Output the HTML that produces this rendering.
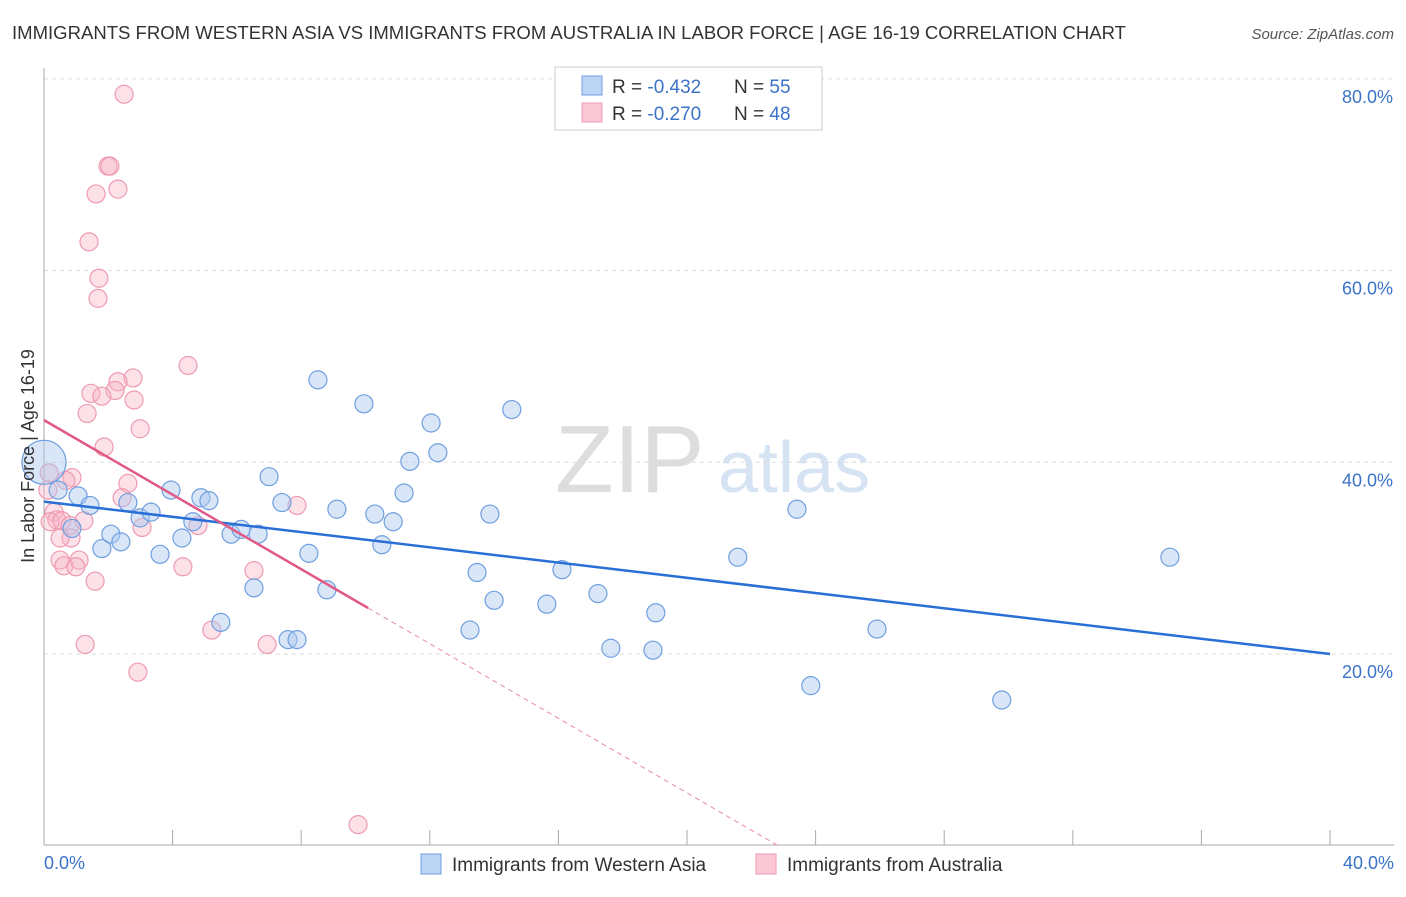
<!DOCTYPE html>
<html><head><meta charset="utf-8"><style>
body{margin:0;background:#fff;font-family:"Liberation Sans",sans-serif}
svg text{font-family:"Liberation Sans",sans-serif}
</style></head><body>
<svg width="1406" height="892" xmlns="http://www.w3.org/2000/svg">
<text x="12" y="39" font-size="18" fill="#333" textLength="1114" lengthAdjust="spacingAndGlyphs">IMMIGRANTS FROM WESTERN ASIA VS IMMIGRANTS FROM AUSTRALIA IN LABOR FORCE | AGE 16-19 CORRELATION CHART</text>
<text x="1394" y="39" font-size="15" fill="#555" text-anchor="end" font-style="italic">Source: ZipAtlas.com</text>
<g>
<text x="555" y="492" font-size="96" fill="#ddd" font-family="Liberation Serif">ZIP</text>
<text x="718" y="492" font-size="72" fill="#d6e3f3">atlas</text>
</g>
<g id="grid"></g>
<g id="axes"></g>
<g id="pts"></g>
<g id="trends"></g>
<text transform="translate(34,456) rotate(-90)" font-size="18" fill="#333" text-anchor="middle">In Labor Force | Age 16-19</text>
<text x="44" y="869" font-size="18" fill="#3b73c8">0.0%</text>
<text x="1394" y="869" font-size="18" fill="#3b73c8" text-anchor="end">40.0%</text>
<g>
<rect x="555" y="67" width="267" height="63" fill="#fff" stroke="#ccc"/>
<rect x="582" y="76" width="20" height="19" fill="#bcd5f5" stroke="#6f9fe0"/>
<rect x="582" y="103" width="20" height="19" fill="#fbc9d6" stroke="#ee9ab0"/>
<text x="612" y="93" font-size="19" fill="#333">R = <tspan fill="#3b73c8">-0.432</tspan></text>
<text x="734" y="93" font-size="19" fill="#333">N = <tspan fill="#3b73c8">55</tspan></text>
<text x="612" y="120" font-size="19" fill="#333">R = <tspan fill="#3b73c8">-0.270</tspan></text>
<text x="734" y="120" font-size="19" fill="#333">N = <tspan fill="#3b73c8">48</tspan></text>
</g>
<g>
<rect x="421" y="854" width="20" height="20" fill="#bcd5f5" stroke="#6f9fe0"/>
<text x="452" y="871" font-size="19" fill="#333">Immigrants from Western Asia</text>
<rect x="756" y="854" width="20" height="20" fill="#fbc9d6" stroke="#ee9ab0"/>
<text x="787" y="871" font-size="19" fill="#333">Immigrants from Australia</text>
</g>
</svg>
<script>
const yTicks=[20,40,60,80];
const yTickLabels=["20.0%","40.0%","60.0%","80.0%"];
const blueX=[0,0.44,1.06,1.43,0.87,1.80,2.08,2.39,2.61,2.99,3.33,3.61,3.95,4.29,4.63,4.88,5.13,5.50,5.82,6.13,6.66,6.53,7.0,7.40,7.59,7.87,8.24,8.52,8.80,9.11,9.95,10.29,10.51,10.86,11.20,11.38,12.04,12.25,13.25,13.47,13.87,14.0,14.55,15.64,16.11,17.23,17.63,18.94,19.03,21.58,23.42,23.85,25.91,29.79,35.02];
const blueY=[40.0,37.1,36.5,35.5,33.1,31.0,32.5,31.7,35.8,34.2,34.8,30.4,37.1,32.1,33.8,36.3,36.0,23.3,32.5,33.0,32.5,26.9,38.5,35.8,21.5,21.5,30.5,48.6,26.7,35.1,46.1,34.6,31.4,33.8,36.8,40.1,44.1,41.0,22.5,28.5,34.6,25.6,45.5,25.2,28.8,26.3,20.6,20.4,24.3,30.1,35.1,16.7,22.6,15.2,30.1];
const pinkX=[2.49,1.99,2.05,2.30,1.62,1.40,1.71,1.68,4.48,2.77,2.30,1.46,2.21,1.80,2.80,1.34,2.99,1.87,0.16,0.87,0.68,0.12,2.61,2.43,0.31,0.40,1.24,0.19,0.56,0.81,3.05,4.79,7.87,0.84,0.50,0.50,0.62,1.09,0.99,1.59,4.32,6.53,5.22,6.94,1.28,2.92,9.77];
const pinkY=[78.4,70.9,70.9,68.5,68.0,63.0,59.2,57.1,50.1,48.8,48.4,47.2,47.5,46.9,46.5,45.1,43.5,41.6,38.9,38.4,38.1,37.1,37.8,36.3,34.8,34.0,33.9,33.8,33.9,33.4,33.2,33.4,35.5,32.1,32.1,29.8,29.2,29.8,29.1,27.6,29.1,28.7,22.5,21.0,21.0,18.1,2.2];
const blueTrend=[35.9,20.0];
const pinkTrend=[44.4,24.8];
const pinkSolidEnd=10.08;
const NS="http://www.w3.org/2000/svg";
const X=v=>44+v/40*1286, Y=v=>845.7-v/20*191.7;
function mk(t,a,p){const e=document.createElementNS(NS,t);for(const k in a)e.setAttribute(k,a[k]);p.appendChild(e);return e;}
const grid=document.getElementById('grid'),axes=document.getElementById('axes'),pts=document.getElementById('pts'),tr=document.getElementById('trends');
yTicks.forEach((t,i)=>{
 const l=mk('line',{x1:44,x2:1394,y1:Y(t),y2:Y(t),stroke:'#ddd','stroke-dasharray':'4,4'},grid);
 
 
 const tx=mk('text',{x:1393,y:Y(t)+24,'font-size':18,fill:'#3b73c8','text-anchor':'end'},grid);
 tx.textContent=yTickLabels[i];
 
 
});
let a=mk('line',{x1:44,x2:44,y1:68,y2:845,stroke:'#aaa'},axes);


a=mk('line',{x1:44,x2:1394,y1:845,y2:845,stroke:'#aaa'},axes);


for(let i=0;i<=10;i++){const t=mk('line',{x1:X(i*4),x2:X(i*4),y1:830,y2:845,stroke:'#aaa'},axes);
 
 }
function dot(x,y,r,f,s,n){const c=mk('circle',{cx:X(x),cy:Y(y),r:r,fill:f,stroke:s,'stroke-width':1.2},pts);
 
 }
pinkX.forEach((x,i)=>dot(x,pinkY[i],9,'rgba(248,180,200,0.4)','#ee9ab0','point-australia'));
blueX.forEach((x,i)=>dot(x,blueY[i],i==0?22:9,'rgba(170,200,240,0.45)','#6f9fe0','point-western-asia'));
let l=mk('line',{x1:X(0),y1:Y(blueTrend[0]),x2:X(40),y2:Y(blueTrend[1]),stroke:'#2a6fd6','stroke-width':2.5},tr);


const slope=(pinkTrend[1]-pinkTrend[0])/pinkSolidEnd, x0=-pinkTrend[0]/slope;
l=mk('line',{x1:X(0),y1:Y(pinkTrend[0]),x2:X(pinkSolidEnd),y2:Y(pinkTrend[1]),stroke:'#e05a85','stroke-width':2.5},tr);


l=mk('line',{x1:X(pinkSolidEnd),y1:Y(pinkTrend[1]),x2:X(x0),y2:Y(0),stroke:'#e88aa6','stroke-width':1,'stroke-dasharray':'5,4'},tr);


</script>
</body></html>
